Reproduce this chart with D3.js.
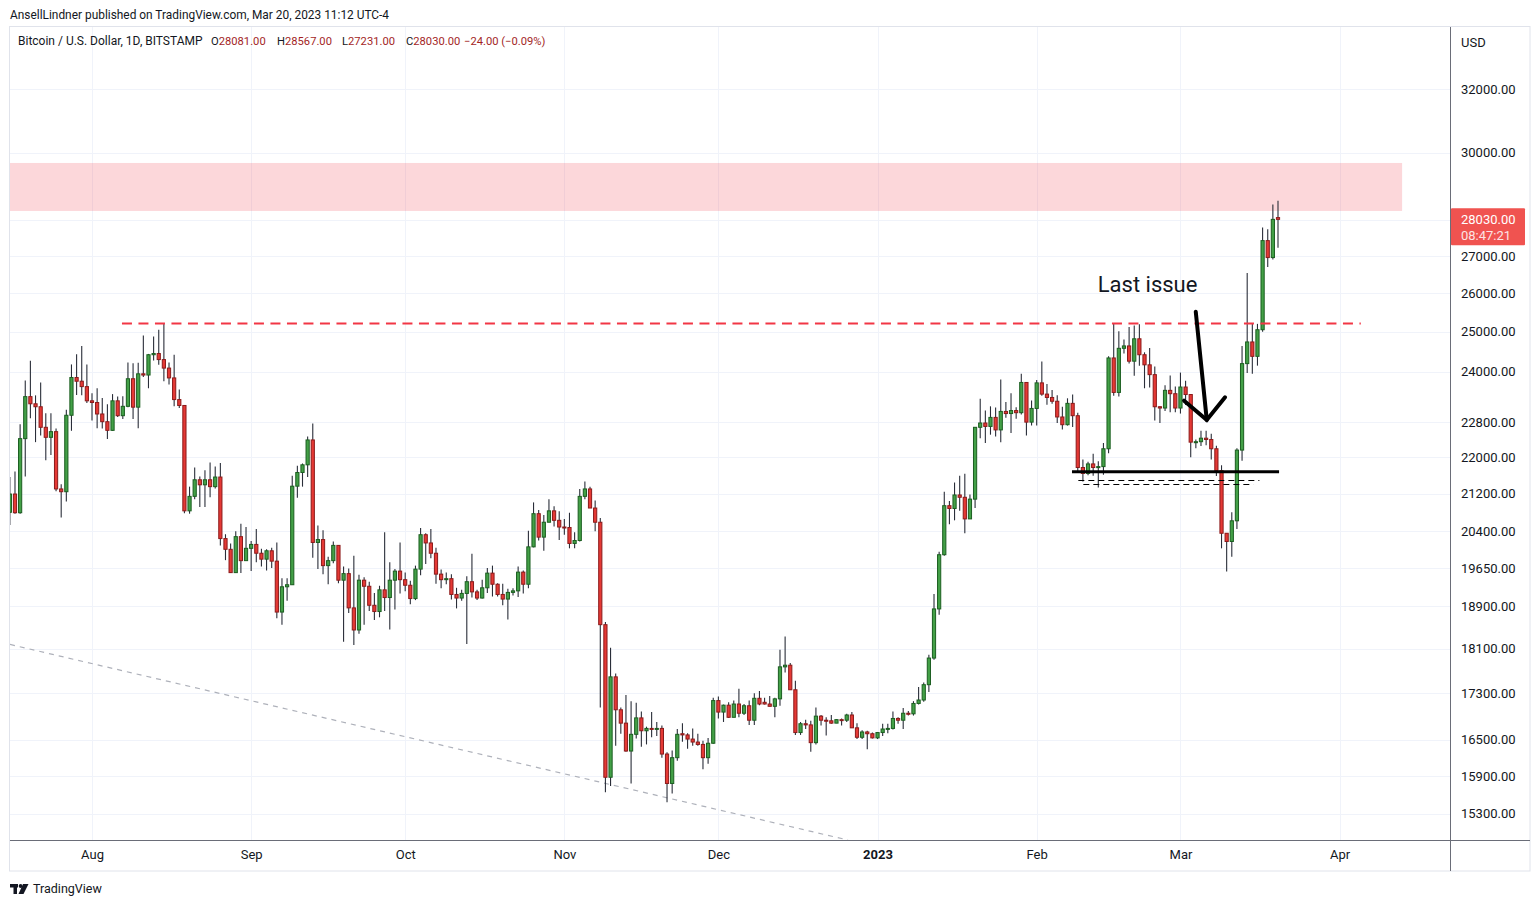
<!DOCTYPE html>
<html><head><meta charset="utf-8">
<script src="https://cdn.jsdelivr.net/npm/d3@7/dist/d3.min.js"></script>
<style>
html,body{margin:0;padding:0;background:#fff;}
svg{display:block;}
text{font-family:Roboto,"Noto Sans",Arial,sans-serif;}
</style></head><body>
<svg id="chart" width="1540" height="907"></svg>
<script>
// ---------------- DATA ----------------
const startDate = "2022-07-16"; // first daily candle
const openPrices = [
 20800,21190,20790,22420,23400,23230,23160,22680,22450,22580,21300,21240,22960,23860,23770,23640,
 23300,23260,22990,22810,22610,23300,22950,23170,23830,23150,23950,23920,24420,24450,24300,24090,23850,23330,23190,20830,21140,21500,21390,21500,21350,21560,20250,20030,19560,20290,19800,
 20050,20130,19950,19830,20000,19790,18790,19280,19320,21360,21660,21830,22390,20170,20230,19700,19800,20110,19410,19540,18870,18450,19410,19290,18920,18800,19220,19070,19410,19590,
 19420,19310,19050,19630,20330,20160,19950,19530,19420,19440,19130,19060,19150,19380,19180,19060,19260,19550,19330,19130,19040,19170,19200,19570,19330,20080,20770,20280,20590,20830,20630,
 20490,20480,20150,20210,21140,21300,20890,20590,18550,15880,17590,17010,16780,16310,16590,16870,16650,16690,16680,16690,16260,15780,16200,16600,16580,16510,16460,16420,16200,16440,
 17170,16970,17090,16880,17110,16950,17080,16830,17210,17140,17110,17070,17200,17770,17800,17360,16620,16770,16750,16450,16900,16830,16820,16780,16840,16830,16920,16700,16540,16630,16600,
 16530,16620,16680,16690,16860,16830,16950,16940,17120,17180,17450,17930,18850,19920,20940,20880,21170,21120,20660,21080,22680,22780,22700,22910,22620,23050,23000,23070,23020,23740,22800,
 23120,23730,23460,23380,23290,22920,22740,23240,22950,21770,21640,21850,21770,21790,22190,24340,23500,24580,24640,24260,24820,24420,24170,23930,23160,23130,23550,23470,
 23130,23630,23450,22340,22350,22430,22400,22190,21700,20360,20190,20620,22160,24200,24740,24380,25050,27430,26960,28081
];
const highPrices = [
 21560,21680,22750,23790,24270,23430,23740,23010,23010,22650,21400,23090,24180,24430,24640,24180,
 23480,23600,23370,23220,23460,23400,23410,24230,24210,24220,24900,24440,24880,25050,25211,24230,24420,23570,23190,21350,21770,21570,21710,21880,21790,21870,20340,20150,20400,20560,20490,
 20200,20450,20040,20030,20060,20170,19450,19450,21590,21810,21860,22470,22770,20520,20420,19880,20190,20110,19680,19640,19900,19520,19470,19380,19160,19300,20380,19770,19630,20170,
 19560,19400,19700,20470,20360,20450,20060,19620,19560,19530,19260,19220,19490,19940,19220,19420,19650,19700,19350,19340,19240,19250,19680,19600,20410,21010,20850,20740,21080,20930,20820,
 20660,20790,20380,21300,21460,21350,21050,20680,18600,18120,17650,17050,17270,17160,17130,16980,16720,16970,16800,16740,16290,16320,16680,16780,16610,16690,16600,16480,16530,17220,
 17240,17100,17140,17170,17380,17110,17170,17300,17340,17220,17250,17220,18080,18330,17840,17520,16800,16840,16820,17050,16920,16880,16920,16850,16860,16940,16970,16780,16660,16650,16620,
 16630,16770,16770,16980,16880,17040,16990,17160,17410,17490,17990,19140,19980,21240,21040,21440,21590,21630,21180,22680,23350,23070,23170,23140,23810,23270,23480,23150,23950,23740,23310,
 23800,24250,23700,23560,23430,23160,23360,23450,23020,21950,21900,22080,21910,22320,24380,25210,25010,24800,25120,25160,25190,24480,24590,24130,23170,23670,23910,23640,
 23980,23780,23450,22400,22600,22600,22530,22260,21820,20360,20800,22200,24640,26540,25210,25200,27800,27750,28460,28567
];
const lowPrices = [
 20530,20770,20770,21570,22890,22340,22490,21930,22050,21250,20690,21030,22600,23440,23430,23250,
 22840,22660,22650,22410,22600,22920,22870,23150,22870,22660,23870,23600,24280,24170,23770,23690,23170,23130,20780,20770,21080,20910,20910,21120,21310,20110,19810,19550,19550,19550,19800,
 19590,19770,19680,19600,19650,18670,18550,19010,19320,21110,21350,21560,19860,19630,19530,19330,19750,19350,18230,18770,18170,18380,18550,18810,18640,18690,18810,18460,18840,19150,
 19190,18940,19020,19510,19730,19850,19340,19250,19330,19030,18860,19010,18190,19070,19020,19050,19160,19090,19090,18920,18650,19110,19080,19150,19250,20070,20210,20000,20590,20500,20220,
 20330,20050,20050,20190,21080,20890,20400,17050,15640,15740,16400,16600,16300,15780,16520,16380,16420,16540,16560,16200,15480,15620,16150,16465,16350,16400,16400,16010,16100,16430,
 16860,16800,16870,16880,16880,16920,16750,16750,17090,17100,17070,16880,17080,17670,17360,16580,16580,16680,16300,16420,16740,16570,16770,16780,16740,16800,16700,16510,16510,16340,16520,
 16510,16560,16610,16670,16770,16680,16910,16910,17100,17150,17320,17900,18740,19900,20550,20630,20830,20360,20660,20890,22430,22320,22510,22470,22340,22900,22550,22880,22980,22490,22720,
 22720,23420,23210,23230,22780,22630,22720,22690,21680,21460,21600,21590,21330,21610,22090,23420,23400,24450,24200,23900,24150,23600,23620,22840,22780,23060,23030,23030,
 23000,23200,22000,22200,22250,22270,21950,21580,20050,19580,19880,20450,21920,23970,23950,24150,25000,26700,26910,27231
];
const closePrices = [
 21190,20790,22420,23400,23230,23160,22680,22450,22580,21300,21240,22960,23860,23770,23640,23300,
 23260,22990,22810,22610,23300,22950,23170,23830,23150,23950,23920,24420,24450,24300,24090,23850,23330,23190,20830,21140,21500,21390,21500,21350,21560,20250,20030,19560,20290,19800,20050,
 20130,19950,19830,20000,19790,18790,19280,19320,21360,21660,21830,22390,20170,20230,19700,19800,20110,19410,19540,18870,18450,19410,19290,18920,18800,19220,19070,19410,19590,19420,
 19310,19050,19630,20330,20160,19950,19530,19420,19440,19130,19060,19150,19380,19180,19060,19260,19550,19330,19130,19040,19170,19200,19570,19330,20080,20770,20280,20590,20830,20630,20490,
 20480,20150,20210,21140,21300,20890,20590,18550,15880,17590,17010,16780,16310,16590,16870,16650,16690,16680,16690,16260,15780,16200,16590,16580,16510,16460,16420,16200,16440,17170,
 16970,17090,16880,17110,16950,17080,16830,17210,17110,17110,17070,17200,17770,17800,17360,16620,16770,16750,16450,16900,16830,16820,16780,16840,16830,16920,16700,16540,16630,16600,16530,
 16620,16680,16690,16860,16830,16950,16940,17120,17180,17450,17930,18850,19920,20940,20880,21170,21120,20660,21080,22680,22780,22700,22910,22620,23050,23000,23070,23020,23740,22800,23120,
 23730,23460,23380,23290,22920,22740,23240,22950,21770,21640,21850,21770,21790,22190,24340,23500,24580,24640,24260,24820,24420,24170,23930,23160,23130,23550,23470,23130,
 23630,23450,22340,22350,22430,22400,22190,21700,20360,20190,20620,22160,24200,24740,24380,25050,27430,26960,28030,28030
];

const priceTicks = [32000,30000,28000,27000,26000,25000,24000,22800,22000,21200,20400,19650,18900,18100,17300,16500,15900,15300];
const hiddenPriceLabels = [28000]; // covered by the last-price tag
const monthTicks = ["2022-08-01","2022-09-01","2022-10-01","2022-11-01","2022-12-01","2023-01-01","2023-02-01","2023-03-01","2023-04-01"];
const monthLabels = ["Aug","Sep","Oct","Nov","Dec","2023","Feb","Mar","Apr"];
const boldLabels = ["2023"];

const headerText = "AnsellLindner published on TradingView.com, Mar 20, 2023 11:12 UTC-4";
const symbolText = "Bitcoin / U.S. Dollar, 1D, BITSTAMP";
const ohlcKeys = ["O","H","L","C"];
const ohlcValues = ["28081.00","28567.00","27231.00","28030.00"];
const changeText = "\u221224.00 (\u22120.09%)";
const lastPrice = 28030;
const lastPriceText = "28030.00";
const countdownText = "08:47:21";

// drawings (time, price)
const resistanceZone = {from:"2022-07-01", to:"2023-04-13T04:00:00Z", low:28271, high:29687};
const resistanceLine = {from:"2022-08-06T20:00:00Z", to:"2023-04-05T03:00:00Z", price:25211};
const supportLine = {from:"2023-02-07T21:00:00Z", to:"2023-03-20T05:00:00Z", price:21678};
const supportDashes = [
  {from:"2023-02-09T02:40:00Z", to:"2023-03-16T09:00:00Z", price:21489},
  {from:"2023-02-10T02:00:00Z", to:"2023-03-15T05:00:00Z", price:21402}
];
const trendLine = [{t:"2022-07-16T00:45:00Z", p:18180},{t:"2022-12-26T06:00:00Z", p:14897}];
const arrowShaft = [{t:"2023-03-03T23:30:00Z", p:25515},{t:"2023-03-06T03:00:00Z", p:22850}];
const arrowHead = [{t:"2023-03-01T17:00:00Z", p:23304},{t:"2023-03-06T03:00:00Z", p:22850},{t:"2023-03-09T16:30:00Z", p:23384}];
const note = {t:"2023-02-12T21:20:00Z", p:26040, text:"Last issue"};

// ---------------- CHART ----------------
const W = 1540, H = 907;
const pane = {x0:10, x1:1450, y0:27, y1:840};
const axisRight = 1530, axisBottom = 871;
const C = {
  text:"#131722", grid:"#f0f3fa", frame:"#e0e3eb", axis:"#6a6d78",
  upFill:"#43a047", upLine:"#1b5e20", dnFill:"#e53935", dnLine:"#8b1a1a", wick:"#2a2e39",
  legendVal:"#a31f1f"
};
const parse = s => new Date(s.length === 10 ? s + "T00:00:00Z" : s);

const dates = openPrices.map((_, i) => d3.utcDay.offset(parse(startDate), i));
const candles = dates.map((d, i) => ({date:d, o:openPrices[i], h:highPrices[i], l:lowPrices[i], c:closePrices[i]}));

const x = d3.scaleUtc().domain([parse("2022-08-01"), parse("2023-03-20")]).range([92, 1278]);
const y = d3.scaleLog().domain([15300, 32000]).range([813.8, 89.3]);

const svg = d3.select("#chart");
svg.append("rect").attr("width", W).attr("height", H).attr("fill", "#fff");

const defs = svg.append("defs");
defs.append("clipPath").attr("id", "paneClip").append("rect")
  .attr("x", pane.x0).attr("y", pane.y0).attr("width", pane.x1 - pane.x0).attr("height", pane.y1 - pane.y0);

// header
svg.append("text").attr("x", 10).attr("y", 15).attr("dy", "0.35em")
  .attr("font-size", 11.9).attr("fill", C.text).text(headerText);

// grid
const grid = svg.append("g").attr("clip-path", "url(#paneClip)");
grid.selectAll("line.v").data(monthTicks).join("line")
  .attr("x1", d => Math.round(x(parse(d))) + 0.5).attr("x2", d => Math.round(x(parse(d))) + 0.5)
  .attr("y1", pane.y0).attr("y2", pane.y1).attr("stroke", C.grid).attr("stroke-width", 1);
grid.selectAll("line.h").data(priceTicks).join("line")
  .attr("x1", pane.x0).attr("x2", pane.x1)
  .attr("y1", d => Math.round(y(d)) + 0.5).attr("y2", d => Math.round(y(d)) + 0.5)
  .attr("stroke", C.grid).attr("stroke-width", 1);

const plot = svg.append("g").attr("clip-path", "url(#paneClip)");

// resistance zone
plot.append("rect")
  .attr("x", x(parse(resistanceZone.from))).attr("width", x(parse(resistanceZone.to)) - x(parse(resistanceZone.from)))
  .attr("y", y(resistanceZone.high)).attr("height", y(resistanceZone.low) - y(resistanceZone.high))
  .attr("fill", "#f23645").attr("fill-opacity", 0.2);

// trend line (grey dashed)
plot.append("line")
  .attr("x1", x(parse(trendLine[0].t))).attr("y1", y(trendLine[0].p))
  .attr("x2", x(parse(trendLine[1].t))).attr("y2", y(trendLine[1].p))
  .attr("stroke", "#aeb1ba").attr("stroke-width", 1.2).attr("stroke-dasharray", "5,5");

// candles
const cg = plot.append("g");
const cand = cg.selectAll("g").data(candles).join("g");
cand.append("line")
  .attr("x1", d => x(d.date)).attr("x2", d => x(d.date))
  .attr("y1", d => y(d.h)).attr("y2", d => y(d.l))
  .attr("stroke", C.wick).attr("stroke-width", 1.1);
cand.append("rect")
  .attr("x", d => x(d.date) - 1.6).attr("width", 3.2)
  .attr("y", d => Math.min(y(d.o), y(d.c)))
  .attr("height", d => Math.max(1, Math.abs(y(d.o) - y(d.c))))
  .attr("fill", d => d.c >= d.o ? C.upFill : C.dnFill)
  .attr("stroke", d => d.c >= d.o ? C.upLine : C.dnLine)
  .attr("stroke-width", 1);

// resistance dashed line
plot.append("line")
  .attr("x1", x(parse(resistanceLine.from))).attr("x2", x(parse(resistanceLine.to)))
  .attr("y1", y(resistanceLine.price)).attr("y2", y(resistanceLine.price))
  .attr("stroke", "#f23645").attr("stroke-width", 2).attr("stroke-dasharray", "10,6.5");

// support line + dashes
plot.append("line")
  .attr("x1", x(parse(supportLine.from))).attr("x2", x(parse(supportLine.to)))
  .attr("y1", y(supportLine.price)).attr("y2", y(supportLine.price))
  .attr("stroke", "#000").attr("stroke-width", 3);
plot.selectAll("line.sd").data(supportDashes).join("line")
  .attr("x1", d => x(parse(d.from))).attr("x2", d => x(parse(d.to)))
  .attr("y1", d => Math.round(y(d.price)) + 0.5).attr("y2", d => Math.round(y(d.price)) + 0.5)
  .attr("stroke", "#000").attr("stroke-width", 1).attr("stroke-dasharray", "6,4");

// arrow
const lineGen = d3.line().x(d => x(parse(d.t))).y(d => y(d.p));
plot.append("path").attr("d", lineGen(arrowShaft)).attr("fill", "none")
  .attr("stroke", "#000").attr("stroke-width", 4).attr("stroke-linecap", "round");
plot.append("path").attr("d", lineGen(arrowHead)).attr("fill", "none")
  .attr("stroke", "#000").attr("stroke-width", 4).attr("stroke-linecap", "round").attr("stroke-linejoin", "miter");

// note text
plot.append("text").attr("x", x(parse(note.t))).attr("y", y(note.p))
  .attr("font-size", 22).attr("fill", "#131722").text(note.text);

// legend
const lg = svg.append("g");
lg.append("text").attr("x", 18).attr("y", 41).attr("dy", "0.35em").attr("font-size", 12).attr("fill", C.text).text(symbolText);
const legendX = [211, 277, 342, 406];
ohlcKeys.forEach((k, i) => {
  const t = lg.append("text").attr("x", legendX[i]).attr("y", 41).attr("dy", "0.35em").attr("font-size", 11.2).attr("fill", C.text);
  t.append("tspan").text(k);
  t.append("tspan").attr("fill", C.legendVal).text(ohlcValues[i]);
});
lg.append("text").attr("x", 464).attr("y", 41).attr("dy", "0.35em").attr("font-size", 11.2).attr("fill", C.legendVal).text(changeText);

// frame and axes lines
svg.append("rect").attr("x", 9.5).attr("y", 26.5).attr("width", axisRight - 9.5).attr("height", axisBottom - 26.5)
  .attr("fill", "none").attr("stroke", C.frame);
svg.append("line").attr("x1", pane.x1 + 0.5).attr("x2", pane.x1 + 0.5).attr("y1", pane.y0).attr("y2", axisBottom)
  .attr("stroke", C.axis);
svg.append("line").attr("x1", pane.x0).attr("x2", axisRight).attr("y1", pane.y1 + 0.5).attr("y2", pane.y1 + 0.5)
  .attr("stroke", C.axis);

// price axis
const yAxis = d3.axisRight(y).tickValues(priceTicks).tickSize(0).tickPadding(11)
  .tickFormat(d => hiddenPriceLabels.includes(d) ? "" : d3.format(".2f")(d));
const ya = svg.append("g").attr("transform", `translate(${pane.x1},0)`).call(yAxis);
ya.select(".domain").remove();
ya.selectAll("text").attr("font-size", 13).attr("font-family", "Roboto,'Noto Sans',sans-serif").attr("fill", C.text);
svg.append("text").attr("x", 1461).attr("y", 42).attr("dy", "0.35em").attr("font-size", 13).attr("fill", C.text).text("USD");

// time axis
const xAxis = d3.axisBottom(x).tickValues(monthTicks.map(parse)).tickSize(0).tickPadding(10)
  .tickFormat((d, i) => monthLabels[i]);
const xa = svg.append("g").attr("transform", `translate(0,${pane.y1})`).call(xAxis);
xa.select(".domain").remove();
xa.selectAll("text").attr("font-size", 13).attr("font-family", "Roboto,'Noto Sans',sans-serif").attr("fill", C.text)
  .attr("font-weight", (d, i) => boldLabels.includes(monthLabels[i]) ? "bold" : "normal");

// last price tag
const ly = y(lastPrice);
svg.append("rect").attr("x", pane.x1 + 1).attr("y", ly - 11).attr("width", 74).attr("height", 37)
  .attr("fill", "#f05350").attr("rx", 1);
svg.append("text").attr("x", 1461).attr("y", ly).attr("dy", "0.35em").attr("font-size", 13).attr("fill", "#fff").text(lastPriceText);
svg.append("text").attr("x", 1461).attr("y", ly + 16).attr("dy", "0.35em").attr("font-size", 13).attr("fill", "#fce4e4").text(countdownText);

// footer logo
const logo = svg.append("g").attr("fill", "#131722");
logo.append("rect").attr("x", 10).attr("y", 884).attr("width", 8).attr("height", 3.5);
logo.append("rect").attr("x", 13.5).attr("y", 884).attr("width", 3.5).attr("height", 10);
logo.append("circle").attr("cx", 20.6).attr("cy", 886).attr("r", 1.9);
logo.append("path").attr("d", "M23,884 L28.5,884 L23.5,894 L18.5,894 Z");
svg.append("text").attr("x", 33).attr("y", 889).attr("dy", "0.35em").attr("font-size", 12.5).attr("fill", "#131722").text("TradingView");
</script>
</body></html>
